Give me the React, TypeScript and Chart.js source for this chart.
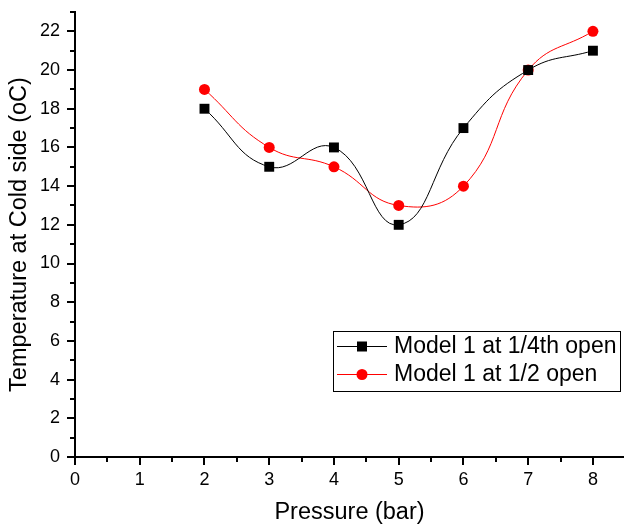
import React, { useEffect, useRef } from 'react';
import { Chart, registerables } from 'chart.js';

Chart.register(...registerables);

const pressures = [2, 3, 4, 5, 6, 7, 8];
const quarterOpen = [18, 15, 16, 12, 17, 20, 21];
const halfOpen = [19, 16, 15, 13, 14, 20, 22];
const seriesLabels = ['Model 1 at 1/4th open', 'Model 1 at 1/2 open'];
const xMajorTicks = [0, 1, 2, 3, 4, 5, 6, 7, 8];
const xMinorTicks = [0.5, 1.5, 2.5, 3.5, 4.5, 5.5, 6.5, 7.5];
const yMajorTicks = [0, 2, 4, 6, 8, 10, 12, 14, 16, 18, 20, 22];
const yMinorTicks = [1, 3, 5, 7, 9, 11, 13, 15, 17, 19, 21, 23];
const xTitle = 'Pressure (bar)';
const yTitle = 'Temperature at Cold side (oC)';

const FONT = '"Liberation Sans", Arial, sans-serif';

const minorTicksPlugin = {
  id: 'minorTicks',
  afterDraw(chart: any) {
    const ctx = chart.ctx;
    const xs = chart.scales.x;
    const ys = chart.scales.y;
    const area = chart.chartArea;
    ctx.save();
    ctx.strokeStyle = '#000';
    ctx.lineWidth = 2;
    ctx.beginPath();
    xMinorTicks.forEach((v) => {
      const px = Math.round(xs.getPixelForValue(v));
      ctx.moveTo(px, area.bottom);
      ctx.lineTo(px, area.bottom + 5);
    });
    yMinorTicks.forEach((v) => {
      const py = Math.round(ys.getPixelForValue(v));
      ctx.moveTo(area.left, py);
      ctx.lineTo(area.left - 5, py);
    });
    ctx.stroke();
    ctx.restore();
  },
};

const legendPlugin = {
  id: 'insideLegend',
  afterDraw(chart: any) {
    const ctx = chart.ctx;
    const boxL = 333;
    const boxT = 331;
    const boxW = 287;
    const boxH = 60;
    ctx.save();
    ctx.fillStyle = '#fff';
    ctx.fillRect(boxL, boxT, boxW, boxH);
    ctx.strokeStyle = '#000';
    ctx.lineWidth = 1;
    ctx.strokeRect(boxL + 0.5, boxT + 0.5, boxW, boxH);
    chart.data.datasets.forEach((ds: any, i: number) => {
      const y = boxT + 15 + i * 28;
      ctx.strokeStyle = ds.borderColor;
      ctx.lineWidth = 1;
      ctx.beginPath();
      ctx.moveTo(boxL + 4, y + 0.5);
      ctx.lineTo(boxL + 54, y + 0.5);
      ctx.stroke();
      ctx.fillStyle = ds.backgroundColor;
      if (ds.pointStyle === 'rect') {
        ctx.fillRect(boxL + 24, y - 4.5, 10, 10);
      } else {
        ctx.beginPath();
        ctx.arc(boxL + 29, y + 0.5, ds.pointRadius, 0, Math.PI * 2);
        ctx.fill();
      }
      ctx.fillStyle = '#000';
      ctx.font = `23px ${FONT}`;
      ctx.textBaseline = 'middle';
      ctx.textAlign = 'left';
      ctx.fillText(ds.label, boxL + 61, y + 1);
    });
    ctx.restore();
  },
};

export default function App() {
  const canvasRef = useRef<HTMLCanvasElement | null>(null);

  useEffect(() => {
    if (!canvasRef.current) return;
    const chart = new Chart(canvasRef.current, {
      type: 'line',
      data: {
        datasets: [
          {
            label: seriesLabels[0],
            data: pressures.map((p, i) => ({ x: p, y: quarterOpen[i] })),
            borderColor: '#000000',
            backgroundColor: '#000000',
            borderWidth: 1,
            pointStyle: 'rect',
            pointRadius: 7,
            pointBorderWidth: 0,
            tension: 0.45,
          },
          {
            label: seriesLabels[1],
            data: pressures.map((p, i) => ({ x: p, y: halfOpen[i] })),
            borderColor: '#ff0000',
            backgroundColor: '#ff0000',
            borderWidth: 1,
            pointStyle: 'circle',
            pointRadius: 5.5,
            pointBorderWidth: 0,
            tension: 0.45,
          },
        ],
      },
      options: {
        animation: false,
        responsive: false,
        maintainAspectRatio: false,
        layout: { autoPadding: false, padding: { top: 12, right: 0, left: 0, bottom: 0 } },
        plugins: {
          legend: { display: false },
          tooltip: { enabled: false },
        },
        scales: {
          x: {
            type: 'linear',
            min: 0,
            max: 8.48,
            afterBuildTicks: (scale: any) => {
              scale.ticks = xMajorTicks.map((v) => ({ value: v }));
            },
            afterFit: (scale: any) => {
              scale.height = 70;
              scale.paddingLeft = 0;
              scale.paddingRight = 0;
            },
            grid: {
              display: true,
              drawOnChartArea: false,
              drawTicks: true,
              tickLength: 8,
              color: '#000',
              lineWidth: 2,
            },
            border: { display: true, color: '#000', width: 2 },
            ticks: {
              color: '#000',
              font: { family: FONT, size: 18 },
              padding: 4,
              maxRotation: 0,
              autoSkip: false,
            },
            title: {
              display: true,
              text: xTitle,
              color: '#000',
              font: { family: FONT, size: 23.5 },
              padding: { top: 0, bottom: 0 },
            },
          },
          y: {
            type: 'linear',
            min: 0,
            max: 23,
            afterBuildTicks: (scale: any) => {
              scale.ticks = yMajorTicks.map((v) => ({ value: v }));
            },
            afterFit: (scale: any) => {
              scale.width = 75;
              scale.paddingTop = 0;
              scale.paddingBottom = 0;
            },
            grid: {
              display: true,
              drawOnChartArea: false,
              drawTicks: true,
              tickLength: 8,
              color: '#000',
              lineWidth: 2,
            },
            border: { display: true, color: '#000', width: 2 },
            ticks: {
              color: '#000',
              font: { family: FONT, size: 18 },
              padding: 7,
              autoSkip: false,
            },
            title: {
              display: true,
              text: yTitle,
              color: '#000',
              font: { family: FONT, size: 23.5 },
              padding: { top: 5, bottom: 0 },
            },
          },
        },
      },
      plugins: [minorTicksPlugin, legendPlugin],
    } as any);
    return () => chart.destroy();
  }, []);

  return (
    <div style={{ position: 'absolute', left: 0, top: 0, width: 624, height: 527, background: '#fff' }}>
      <canvas ref={canvasRef} width={624} height={527} style={{ display: 'block', width: 624, height: 527 }} />
    </div>
  );
}
